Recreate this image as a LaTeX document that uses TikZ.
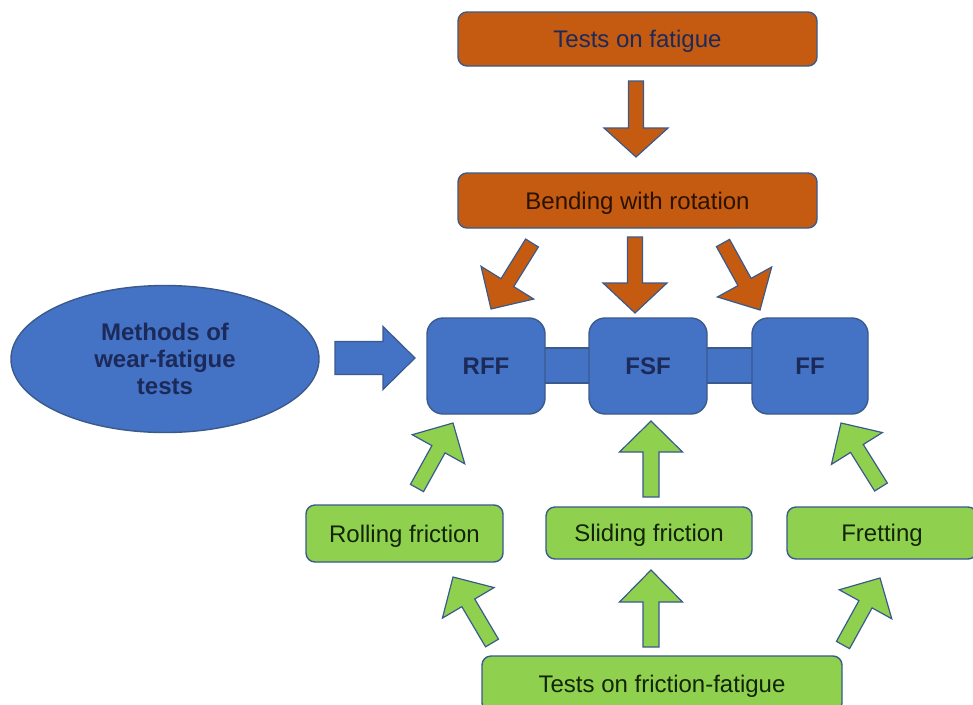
\documentclass[tikz,border=0pt]{standalone}
\usepackage{fontspec}
\setmainfont{Liberation Sans}
\usetikzlibrary{calc,shapes.geometric}
\definecolor{orangefill}{HTML}{C55A11}
\definecolor{bluefill}{HTML}{4472C4}
\definecolor{greenfill}{HTML}{8FD14F}
\definecolor{edgecol}{HTML}{3A5A8C}
\definecolor{navytext}{HTML}{1C2A5A}
\definecolor{browntext}{HTML}{2A1200}
\definecolor{greentext}{HTML}{132508}
\newcommand\blockarrow[6]{%
  \coordinate (hb) at ($(#3)!#6!(#2)$);
  \draw[#1] ($(#2)!#4!90:(#3)$) -- ($(hb)!#4!90:(#3)$) -- ($(hb)!#5!90:(#3)$) -- (#3)
    -- ($(hb)!#5!-90:(#3)$) -- ($(hb)!#4!-90:(#3)$) -- ($(#2)!#4!-90:(#3)$) -- cycle;}
\tikzset{
  lbl/.style={font=\fontsize{24}{27}\selectfont, align=center, inner sep=0pt},
  onel/.style={text height=17pt, text depth=0pt},
  obox/.style={lbl, onel, draw=edgecol, line width=1.4pt, fill=orangefill, rounded corners=9pt},
  bbox/.style={lbl, draw=edgecol, line width=1.4pt, fill=bluefill, rounded corners=16pt, text=navytext, font=\fontsize{24}{27}\selectfont\bfseries},
  gbox/.style={lbl, onel, draw=edgecol, line width=1.4pt, fill=greenfill, rounded corners=9pt, text=greentext},
  oarr/.style={draw=edgecol, line width=1.2pt, fill=orangefill, line join=miter},
  barr/.style={draw=edgecol, line width=1.2pt, fill=bluefill, line join=miter},
  garr/.style={draw=edgecol, line width=1.2pt, fill=greenfill, line join=miter},
}
\begin{document}
\begin{tikzpicture}[x=1pt,y=-1pt]
\useasboundingbox (0,0) rectangle (973,704);
\clip (0,0) rectangle (973,704);
\fill[white] (0,0) rectangle (973,704);
% nodes
\node[obox, minimum width=359pt, minimum height=54pt, text=navytext] (fat) at (637.5,39) {Tests on fatigue};
\node[obox, minimum width=359pt, minimum height=55pt, text=browntext] (bend) at (637.5,200.5) {Bending with rotation};
\node[ellipse, draw=edgecol, line width=1.4pt, fill=bluefill, minimum width=308pt, minimum height=147pt, inner sep=0pt,
      text=navytext, font=\fontsize{24}{27}\selectfont\bfseries, align=center] (meth) at (165,359) {Methods of\\wear-fatigue\\tests};
% connecting bars
\fill[bluefill] (545,348) rectangle (589,383);
\fill[bluefill] (707,348) rectangle (752,383);
\draw[edgecol, line width=1.2pt] (540,348) -- (594,348) (540,383) -- (594,383);
\draw[edgecol, line width=1.2pt] (702,348) -- (757,348) (702,383) -- (757,383);
\node[bbox, minimum width=118pt, minimum height=96pt] (rff) at (486,366) {RFF};
\node[bbox, minimum width=118pt, minimum height=96pt] (fsf) at (648,366) {FSF};
\node[bbox, minimum width=116pt, minimum height=96pt] (ff) at (810,366) {FF};
\node[gbox, minimum width=197pt, minimum height=57pt] (roll) at (404.5,533.5) {Rolling friction};
\node[gbox, minimum width=206pt, minimum height=52pt] (slide) at (649,533) {Sliding friction};
\node[gbox, minimum width=190pt, minimum height=52pt] (fret) at (882,533) {Fretting};
\node[gbox, minimum width=360pt, minimum height=56pt] (ffat) at (662,684) {Tests on friction-fatigue};
% arrow end points
\coordinate (a1s) at (636,81);  \coordinate (a1e) at (636,157);
\coordinate (a2s) at (532,243); \coordinate (a2e) at (491,309);
\coordinate (a3s) at (635,237); \coordinate (a3e) at (635,313);
\coordinate (a4s) at (723,243); \coordinate (a4e) at (760,310);
\coordinate (bs) at (335,358);  \coordinate (be) at (415,358);
\coordinate (g1s) at (417,488); \coordinate (g1e) at (453,423);
\coordinate (g2s) at (651,497); \coordinate (g2e) at (651,421);
\coordinate (g3s) at (881,487); \coordinate (g3e) at (841,423);
\coordinate (g4s) at (492,643); \coordinate (g4e) at (453,577);
\coordinate (g5s) at (651,647); \coordinate (g5e) at (651,570);
\coordinate (g6s) at (843,645); \coordinate (g6e) at (880,578);
% arrows
\blockarrow{oarr}{a1s}{a1e}{7.5pt}{32pt}{29pt}
\blockarrow{oarr}{a2s}{a2e}{7.5pt}{31pt}{31pt}
\blockarrow{oarr}{a3s}{a3e}{7.5pt}{32pt}{30pt}
\blockarrow{oarr}{a4s}{a4e}{7.5pt}{31pt}{32pt}
\blockarrow{barr}{bs}{be}{16.5pt}{31.5pt}{32pt}
\blockarrow{garr}{g1s}{g1e}{7.5pt}{30pt}{30pt}
\blockarrow{garr}{g2s}{g2e}{8pt}{31.5pt}{31pt}
\blockarrow{garr}{g3s}{g3e}{7.5pt}{30pt}{30pt}
\blockarrow{garr}{g4s}{g4e}{7.5pt}{30pt}{30pt}
\blockarrow{garr}{g5s}{g5e}{8pt}{31.5pt}{32pt}
\blockarrow{garr}{g6s}{g6e}{7.5pt}{30pt}{30pt}
\end{tikzpicture}
\end{document}
